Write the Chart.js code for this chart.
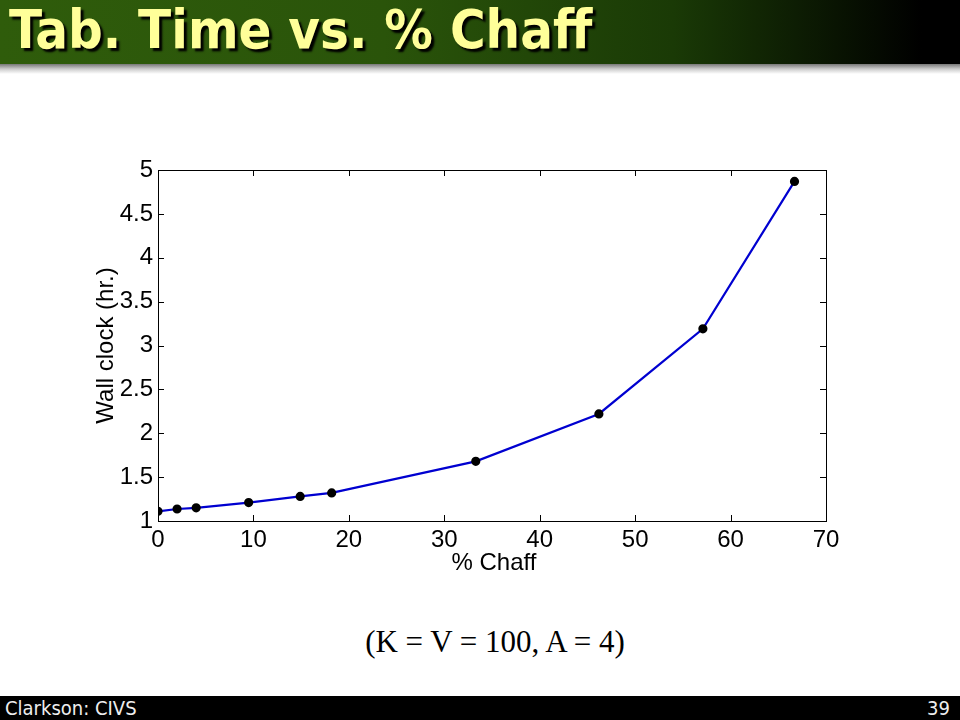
<!DOCTYPE html>
<html>
<head>
<meta charset="utf-8">
<script src="https://cdn.jsdelivr.net/npm/chart.js@4.4.1/dist/chart.umd.min.js"></script>
<style>
  body { margin: 0; width: 960px; height: 720px; background: #fff; position: relative; overflow: hidden; }
  #titlebar { position: absolute; left: 0; top: 0; width: 960px; height: 64px;
    background: linear-gradient(to right, #2f5c0b 0%, #2a540a 40%, #1a3a06 70%, #000 96%); }
  #shadow { position: absolute; left: 0; top: 64px; width: 960px; height: 10px;
    background: linear-gradient(to bottom, #777 0%, #ccc 50%, #fff 100%); }
  #title { position: absolute; left: 9px; top: -2px; font-family: "DejaVu Sans Condensed", "DejaVu Sans"; font-weight: bold;
    font-size: 54px; color: #ffff99; text-shadow: 3px 3px 2px #000; white-space: nowrap; }
  #sub { position: absolute; left: 0; width: 990px; top: 624px; text-align: center;
    font-family: "Liberation Serif", serif; font-size: 31px; color: #000; }
  #footer { position: absolute; left: 0; top: 696px; width: 960px; height: 24px; background: #000;
    color: #eee; font-family: "DejaVu Sans Condensed", "DejaVu Sans"; font-size: 20px; line-height: 24px; }
  #footer .l { position: absolute; left: 5px; }
  #footer .r { position: absolute; right: 10px; }
  #wrap { position: absolute; left: 0; top: 100px; width: 960px; height: 500px; }
</style>
</head>
<body>
<div id="titlebar"></div>
<div id="shadow"></div>
<div id="title">Tab. Time vs. % Chaff</div>
<div id="wrap"><canvas id="chart"></canvas></div>
<div id="sub">(K = V = 100, A = 4)</div>
<div id="footer"><span class="l">Clarkson: CIVS</span><span class="r">39</span></div>
<script>
const chaffPct = [0, 2, 4, 9.5, 14.9, 18.2, 33.3, 46.2, 57.1, 66.7];
const wallClock = [1.11, 1.137, 1.15, 1.21, 1.28, 1.32, 1.68, 2.22, 3.19, 4.87];
const xTitle = '% Chaff';
const yTitle = 'Wall clock (hr.)';

const font = { family: '"Liberation Sans", Arial, sans-serif', size: 24 };

// MATLAB style box with inward ticks + axis titles
const boxPlugin = {
  id: 'box',
  afterDraw(chart) {
    const { ctx, chartArea: a, scales } = chart;
    ctx.save();
    ctx.strokeStyle = '#000';
    ctx.lineWidth = 1;
    ctx.strokeRect(a.left + 0.5, a.top + 0.5, a.right - a.left, a.bottom - a.top);
    const len = 6;
    ctx.beginPath();
    scales.x.ticks.forEach(t => {
      const px = Math.round(scales.x.getPixelForValue(t.value)) + 0.5;
      ctx.moveTo(px, a.bottom); ctx.lineTo(px, a.bottom - len);
      ctx.moveTo(px, a.top); ctx.lineTo(px, a.top + len);
    });
    scales.y.ticks.forEach(t => {
      const py = Math.round(scales.y.getPixelForValue(t.value)) + 0.5;
      ctx.moveTo(a.left, py); ctx.lineTo(a.left + len, py);
      ctx.moveTo(a.right, py); ctx.lineTo(a.right - len, py);
    });
    ctx.stroke();
    ctx.fillStyle = '#000';
    ctx.font = font.size + 'px ' + font.family;
    ctx.textAlign = 'center';
    ctx.textBaseline = 'middle';
    ctx.fillText(xTitle, 494, a.bottom + 42);
    ctx.translate(106, (a.top + a.bottom) / 2);
    ctx.rotate(-Math.PI / 2);
    ctx.fillText(yTitle, 0, 0);
    ctx.restore();
  }
};

new Chart(document.getElementById('chart'), {
  type: 'line',
  data: {
    datasets: [{
      data: chaffPct.map((x, i) => ({ x: x, y: wallClock[i] })),
      borderColor: '#0000d0',
      borderWidth: 2.2,
      pointBackgroundColor: '#000',
      pointBorderColor: '#000',
      pointRadius: 3.5,
      tension: 0
    }]
  },
  options: {
    responsive: true,
    maintainAspectRatio: false,
    animation: false,
    layout: { padding: { left: 0, right: 134, top: 70, bottom: 0 } },
    plugins: { legend: { display: false }, tooltip: { enabled: false } },
    scales: {
      x: {
        type: 'linear', min: 0, max: 70,
        ticks: { stepSize: 10, color: '#000', font: font, padding: 5, maxRotation: 0 },
        grid: { display: false, drawTicks: false },
        border: { display: false },
        afterFit: s => { s.height = 79; }
      },
      y: {
        min: 1, max: 5,
        ticks: { stepSize: 0.5, color: '#000', font: font, padding: 5, callback: v => String(v) },
        grid: { display: false, drawTicks: false },
        border: { display: false },
        afterFit: s => { s.width = 158; }
      }
    }
  },
  plugins: [boxPlugin]
});
</script>
</body>
</html>
